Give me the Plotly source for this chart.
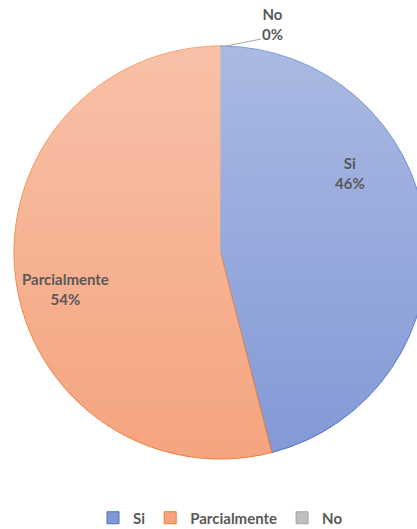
import base64
import plotly.graph_objects as go

labels = ["Si", "Parcialmente", "No"]
values = [46, 54, 0]
colors = ["#8399D6", "#F5A47F", "#BFBFBF"]
edge_colors = ["#4472C4", "#ED7D31", "#A5A5A5"]

W, H = 441, 529
L, R, T, B = 14, 14, 46, 70
PW, PH = W - L - R, H - T - B

def px(x):
    return (x - L) / PW

def py(y):
    return (H - B - y) / PH

total = sum(values)
pct = [round(v / total * 100) for v in values]

fig = go.Figure(go.Pie(
    labels=labels, values=values, sort=False, direction="clockwise", rotation=0,
    marker=dict(colors=colors, line=dict(color=edge_colors, width=1)),
    textinfo="none", hoverinfo="label+percent",
    domain=dict(x=[0, 1], y=[0, 1]),
))

# soft vertical light gradient over the pie (white, fading to transparent)
svg = ('<svg xmlns="http://www.w3.org/2000/svg" width="100" height="100" viewBox="0 0 100 100" '
       'preserveAspectRatio="none"><defs><linearGradient id="g" x1="0" y1="0" x2="0" y2="1">'
       '<stop offset="0" stop-color="#ffffff" stop-opacity="0.32"/>'
       '<stop offset="1" stop-color="#ffffff" stop-opacity="0"/></linearGradient></defs>'
       '<rect width="100" height="100" fill="url(#g)"/></svg>')
src = "data:image/svg+xml;base64," + base64.b64encode(svg.encode()).decode()
fig.add_layout_image(source=src, xref="paper", yref="paper", x=0, y=1, sizex=1, sizey=1,
                     xanchor="left", yanchor="top", sizing="stretch", layer="above", opacity=1)

font = dict(family="Lato, Open Sans, sans-serif", size=15, color="#595959")
label_pos = {"Si": (350, 173), "Parcialmente": (65, 289), "No": (272, 24)}
for lab, p in zip(labels, pct):
    x, y = label_pos[lab]
    fig.add_annotation(x=px(x), y=py(y), xref="paper", yref="paper",
                       text=f"<b>{lab}</b><br><b>{p}%</b>", showarrow=False,
                       font=font, xanchor="center", yanchor="middle")

fig.add_shape(type="line", xref="paper", yref="paper",
              x0=px(221), y0=py(47), x1=px(261), y1=py(39),
              line=dict(color="#A6A6A6", width=1))

fig.update_layout(
    width=W, height=H, margin=dict(l=L, r=R, t=T, b=B),
    paper_bgcolor="white", plot_bgcolor="white",
    showlegend=True,
    legend=dict(orientation="h", x=0.5, xanchor="center",
                yref="container", y=(H - 518) / H, yanchor="middle",
                font=dict(family="Lato, Open Sans, sans-serif", size=15, color="#595959", weight="bold"),
                itemwidth=30, tracegroupgap=0),
)

fig.write_html("out.html", config={"displayModeBar": False},
               post_script="document.body.style.margin='0';document.body.style.overflow='hidden';document.documentElement.style.overflow='hidden';")
